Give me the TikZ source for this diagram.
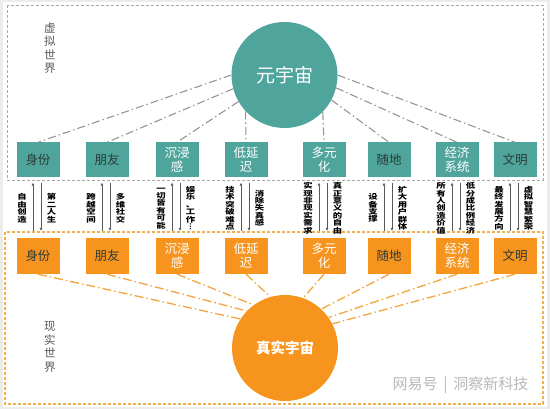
\documentclass[tikz,border=0pt]{standalone}
\usepackage{fontspec}
\setmainfont{Noto Sans CJK SC}
\usetikzlibrary{arrows.meta}
\definecolor{metateal}{HTML}{4FA59B}
\definecolor{realorange}{HTML}{F7941D}
\definecolor{framegray}{HTML}{A8A8A8}
\definecolor{frameorange}{HTML}{F2B04A}
\definecolor{linegray}{HTML}{8E9898}
\definecolor{lineorange}{HTML}{F4A540}
\definecolor{boxdark}{HTML}{2B3A38}
\tikzset{
  metabox/.style={fill=metateal, minimum width=43pt, minimum height=35pt, inner sep=0pt,
    align=center, font=\fontsize{12.5}{14}\selectfont, text=#1},
  realbox/.style={fill=realorange, minimum width=43pt, minimum height=36pt, inner sep=0pt,
    align=center, font=\fontsize{12.5}{14}\selectfont, text=#1},
  metaline/.style={linegray, line width=1.1pt, dash pattern=on 8pt off 3pt on 1.5pt off 3pt},
  realline/.style={lineorange, line width=1.3pt, dash pattern=on 9pt off 3pt on 1.5pt off 3pt},
  updown/.style={gray!70!black, line width=0.7pt, -{Triangle[length=3pt,width=2.6pt]}},
  vlabel/.style={font=\fontsize{7.2}{7.4}\selectfont\bfseries, align=center, inner sep=0pt,
    xscale=1.3, transform shape},
  worldlabel/.style={font=\fontsize{11.5}{13.5}\selectfont, text=black!65, align=center, inner sep=0pt}
}
\begin{document}
\begin{tikzpicture}[x=1pt,y=1pt]
  \fill[gray!15] (0,0) rectangle (550,409);
  \fill[white] (3,2) rectangle (547,407);
  % frames of the two worlds
  \draw[framegray, line width=0.9pt, dash pattern=on 3pt off 2pt] (7,404) rectangle (543,229);
  \draw[frameorange, line width=1.1pt, dash pattern=on 3pt off 2pt] (5,177) rectangle (543,5);
  \node[worldlabel] (virt) at (50,361) {虚\\拟\\世\\界};
  \node[worldlabel] (real world) at (50,62) {现\\实\\世\\界};
  % the two universes
  \node[circle, fill=metateal, minimum size=106pt, inner sep=0pt, text=white,
    font=\fontsize{19}{19}\selectfont] (meta) at (284.5,334) {元宇宙};
  \node[circle, fill=realorange, minimum size=106pt, inner sep=0pt, text=white,
    font=\fontsize{14.5}{14.5}\selectfont\bfseries] (real) at (285,61) {真实宇宙};
  % boxes, arrows and their labels
  \foreach \i/\c/\name/\tc/\lt/\rt in {
      1/38/{身份}/boxdark/{自\\由\\创\\造}/{第\\二\\人\\生},
      2/107/{朋友}/boxdark/{跨\\越\\空\\间}/{多\\维\\社\\交},
      3/177/{沉浸\\感}/white/{一\\切\\皆\\有\\可\\能}/{娱\\乐\\、\\工\\作\\︙},
      4/246/{低延\\迟}/white/{技\\术\\突\\破\\难\\点}/{消\\除\\失\\真\\感},
      5/324/{多元\\化}/white/{实\\现\\非\\现\\实\\需\\求}/{真\\正\\意\\义\\的\\自\\由},
      6/389/{随地}/boxdark/{设\\备\\支\\撑}/{扩\\大\\用\\户\\群\\体},
      7/457/{经济\\系统}/white/{所\\有\\人\\创\\造\\价\\值}/{低\\分\\成\\比\\例\\经\\济},
      8/515/{文明}/boxdark/{最\\终\\发\\展\\方\\向}/{虚\\拟\\智\\慧\\繁\\荣}} {
    \node[metabox=\tc] (t\i) at (\c,249) {\name};
    \node[realbox=\tc] (o\i) at (\c,153) {\name};
    \draw[updown] ([xshift=-5pt,yshift=7pt]o\i.north) -- ([xshift=-5pt,yshift=-5pt]t\i.south);
    \draw[updown] ([xshift=3pt,yshift=-5pt]t\i.south) -- ([xshift=3pt,yshift=7pt]o\i.north);
    \node[vlabel] (lt\i) at ([shift={(-16,-30.5)}]t\i.south) {\lt};
    \node[vlabel] (rt\i) at ([shift={(13.5,-30.5)}]t\i.south) {\rt};
  }
  % dash-dot links to the universes
  \foreach \i/\a in {1/180,2/195,3/210,4/223.4,5/316.6,6/332,7/346,8/0}
    \draw[metaline] (meta.\a) -- (t\i.north);
  \foreach \i/\a in {1/147,2/136,3/126,4/106,5/70,6/47,7/35,8/27}
    \draw[realline] (o\i.south) -- (real.\a);
  \node[anchor=east, font=\fontsize{15}{15}\selectfont, text=gray!55] (mark) at (532,24)
    {网易号 \,|\, 洞察新科技};
\end{tikzpicture}
\end{document}
